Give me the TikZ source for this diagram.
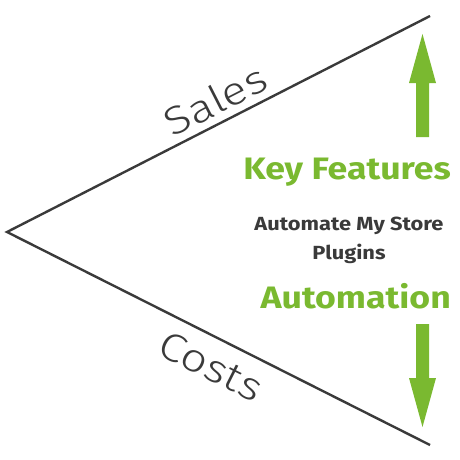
\documentclass[tikz,border=0pt]{standalone}
\usepackage{fontspec}
\setmainfont{Fira Sans}[FakeStretch=1.15]
\newfontfamily\lightfont{Fira Sans Light}[FakeStretch=1.2]
\definecolor{leafgreen}{RGB}{122,185,48}
\definecolor{inkgray}{RGB}{58,58,58}
\begin{document}
\begin{tikzpicture}[x=1pt,y=-1pt,
  edge/.style={draw=inkgray,line width=2.4pt},
  bigarrow/.style={fill=leafgreen,draw=none},
  greentext/.style={text=leafgreen,font=\fontsize{31}{36}\selectfont\bfseries,inner sep=0pt},
  graytext/.style={text=inkgray,font=\fontsize{19}{28}\selectfont\bfseries,inner sep=0pt},
  linelabel/.style={text=inkgray,font=\lightfont\fontsize{39}{44}\selectfont,inner sep=0pt}]
\useasboundingbox (0,0) rectangle (460,460);
\coordinate (apex) at (7,232);
\coordinate (top) at (430,16);
\coordinate (bot) at (430,445);
\draw[edge] (top) -- (apex) -- (bot);
\node[linelabel,rotate=27.05] (sales) at (215,100) {Sales};
\node[linelabel,rotate=-26.7] (costs) at (211,366) {Costs};
\fill[bigarrow] (416,137) -- (416,83) -- (409,83) -- (422.5,34) -- (436,83) -- (429,83) -- (429,137) -- cycle;
\fill[bigarrow] (416,324) -- (416,378) -- (409,378) -- (422.5,427) -- (436,378) -- (429,378) -- (429,324) -- cycle;
\node[greentext,anchor=base east] (kf) at (451,179) {Key Features};
\node[graytext,anchor=base] (ams) at (349,230) {Automate My Store};
\node[graytext,anchor=base] (plug) at (349,259) {Plugins};
\node[greentext,anchor=base east] (auto) at (451,308) {Automation};
\end{tikzpicture}
\end{document}
